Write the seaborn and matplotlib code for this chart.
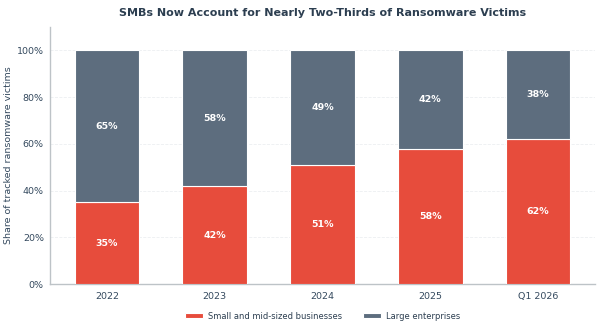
import matplotlib
matplotlib.use("Agg")
import matplotlib.pyplot as plt
import seaborn as sns
import pandas as pd
from matplotlib.ticker import PercentFormatter

periods = ["2022", "2023", "2024", "2025", "Q1 2026"]
smb_share = [35, 42, 51, 58, 62]
large_share = [65, 58, 49, 42, 38]
series_names = ["Small and mid-sized businesses", "Large enterprises"]
series_colors = ["#E74C3C", "#5D6D7E"]

sns.set_theme(style="white")
plt.rcParams["font.family"] = ["DejaVu Sans"]

df = pd.DataFrame({"period": periods, "smb": smb_share, "large": large_share})

fig, ax = plt.subplots(figsize=(6, 3.3), dpi=100)

sns.barplot(data=df, x="period", y="smb", color=series_colors[0], width=0.6, saturation=1,
            edgecolor="white", linewidth=0.8, label=series_names[0], ax=ax, zorder=3)
# stacked top segment
sns.barplot(data=df, x="period", y="large", bottom=df["smb"], color=series_colors[1], width=0.6,
            saturation=1, edgecolor="white", linewidth=0.8, label=series_names[1], ax=ax, zorder=3)

for container, vals, base in zip(ax.containers, [smb_share, large_share], [[0] * 5, smb_share]):
    for bar, v, b in zip(container, vals, base):
        ax.text(bar.get_x() + bar.get_width() / 2, b + v / 2, f"{v}%",
                ha="center", va="center", color="white", fontsize=6.8, fontweight="bold", zorder=4)

ax.set_xlim(-0.53, 4.53)
ax.set_ylim(0, 110)
ax.set_yticks([0, 20, 40, 60, 80, 100])
ax.yaxis.set_major_formatter(PercentFormatter(decimals=0))
ax.grid(axis="y", color="#ECEFF1", linestyle="--", linewidth=0.6, zorder=0)
ax.set_xlabel("")
ax.set_ylabel("Share of tracked ransomware victims", fontsize=6.8, color="#34495E", labelpad=3)
ax.set_title("SMBs Now Account for Nearly Two-Thirds of Ransomware Victims",
             fontsize=8, fontweight="bold", color="#2C3E50", pad=8)

sns.despine(ax=ax)
for side in ["left", "bottom"]:
    ax.spines[side].set_color("#BDC3C7")
    ax.spines[side].set_linewidth(1)
ax.tick_params(axis="both", labelsize=6.8, colors="#34495E", length=2.5, width=0.8,
               color="#BDC3C7", pad=1.8)
ax.tick_params(axis="x", pad=3)

handles, labels = ax.get_legend_handles_labels()
ax.legend(handles, labels, loc="center", bbox_to_anchor=(0.5, -0.125), ncol=2,
          frameon=False, fontsize=6, handlelength=2.2, handleheight=0.55, columnspacing=2.5,
          handletextpad=0.6, labelcolor="#2C3E50")

fig.subplots_adjust(left=0.083, right=0.992, top=0.918, bottom=0.139)
fig.savefig("out.png", dpi=100, facecolor="white")
